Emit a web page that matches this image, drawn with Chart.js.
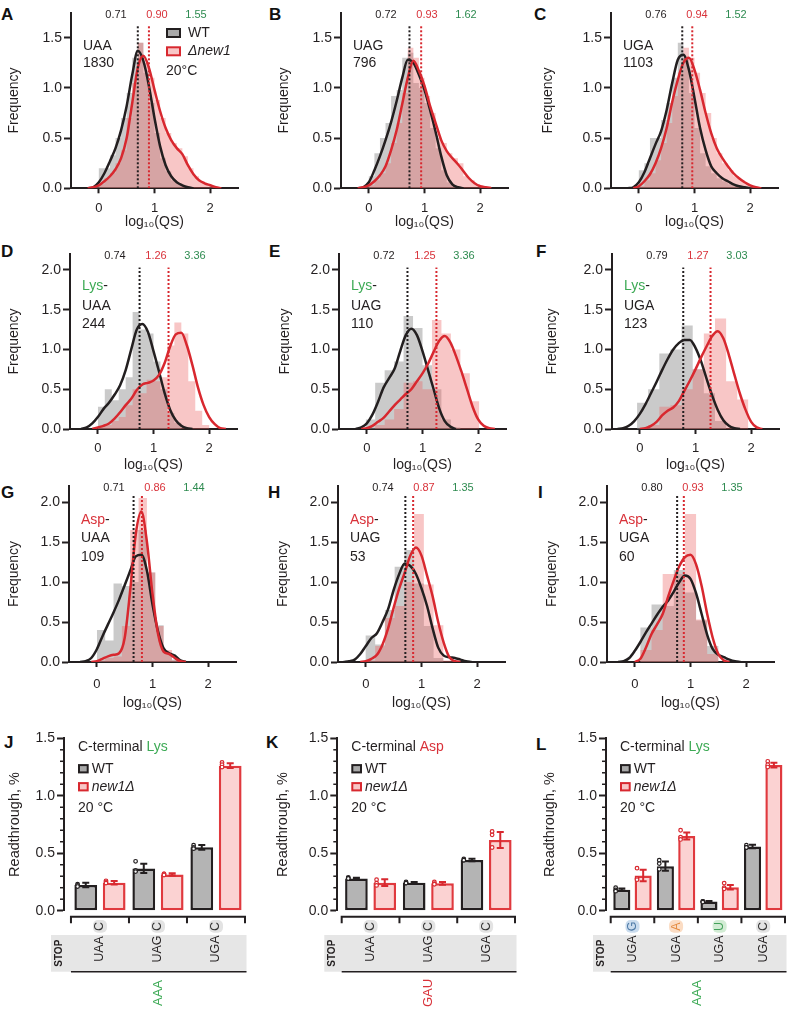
<!DOCTYPE html>
<html>
<head>
<meta charset="utf-8">
<script src="https://cdn.jsdelivr.net/npm/chart.js@4.4.1/dist/chart.umd.min.js"></script>
<style>
  html, body { margin: 0; padding: 0; background: #fff; }
  body { position: relative; width: 787px; height: 1012px; overflow: hidden; font-family: "Liberation Sans", Arial, Helvetica, sans-serif; }
  canvas { position: absolute; }
  .tag { position: absolute; font-weight: bold; font-size: 17px; line-height: 17px; color: #111; }
</style>
</head>
<body>
<div class="tag" style="left:1px;top:6px">A</div>
<div class="tag" style="left:269px;top:6px">B</div>
<div class="tag" style="left:534px;top:6px">C</div>
<div class="tag" style="left:1px;top:243px">D</div>
<div class="tag" style="left:269px;top:243px">E</div>
<div class="tag" style="left:536px;top:243px">F</div>
<div class="tag" style="left:1px;top:484px">G</div>
<div class="tag" style="left:268px;top:484px">H</div>
<div class="tag" style="left:538px;top:484px">I</div>
<div class="tag" style="left:4px;top:734px">J</div>
<div class="tag" style="left:266px;top:734px">K</div>
<div class="tag" style="left:536px;top:736px">L</div>
<script>
// ---- density curves, sampled on a common log10(QS) grid ----
const qsGrid = [-0.4,-0.3,-0.2,-0.1,0,0.1,0.2,0.3,0.4,0.5,0.6,0.7,0.8,0.9,1,1.1,1.2,1.3,1.4,1.5,1.6,1.7,1.8,1.9,2,2.1,2.2,2.3,2.4];
const _ = null;
const densA_wt  = [_,_,0,0.01,0.06,0.15,0.27,0.40,0.58,0.82,1.13,1.37,1.27,1.02,0.70,0.42,0.23,0.12,0.06,0.03,0.01,0,_,_,_,_,_,_,_];
const densA_mut = [_,_,0,0.01,0.03,0.07,0.12,0.19,0.30,0.50,0.85,1.20,1.32,1.20,0.98,0.77,0.60,0.48,0.40,0.34,0.23,0.14,0.08,0.05,0.03,0.01,0,_,_];
const densB_wt  = [_,_,0,0.01,0.06,0.18,0.32,0.48,0.66,0.87,1.10,1.28,1.25,1.13,0.98,0.78,0.56,0.32,0.13,0.04,0.01,0,_,_,_,_,_,_,_];
const densB_mut = [_,_,0,0.01,0.03,0.07,0.13,0.22,0.38,0.58,0.84,1.10,1.27,1.17,1.02,0.82,0.65,0.48,0.37,0.30,0.24,0.17,0.10,0.05,0.02,0.01,0,_,_];
const densC_wt  = [_,_,0,0.01,0.06,0.16,0.30,0.44,0.57,0.78,1.05,1.28,1.33,1.18,0.90,0.60,0.38,0.22,0.15,0.10,0.07,0.04,0.02,0.01,0,_,_,_,_];
const densC_mut = [_,_,_,0,0.02,0.07,0.14,0.25,0.40,0.60,0.86,1.08,1.25,1.30,1.18,0.98,0.75,0.55,0.40,0.30,0.22,0.15,0.10,0.06,0.03,0.01,0,_,_];
const densD_wt  = [_,0,0.02,0.07,0.15,0.25,0.33,0.43,0.55,0.74,1.00,1.25,1.32,1.22,0.98,0.72,0.45,0.24,0.11,0.04,0.01,0,_,_,_,_,_,_,_];
const densD_mut = [_,_,_,0,0.02,0.04,0.07,0.13,0.21,0.30,0.38,0.49,0.56,0.58,0.61,0.68,0.83,1.04,1.19,1.21,1.05,0.80,0.52,0.30,0.15,0.06,0.01,0,_];
const densE_wt  = [_,_,0,0.02,0.07,0.18,0.34,0.52,0.64,0.76,0.98,1.18,1.26,1.18,0.98,0.74,0.50,0.26,0.10,0.03,0,_,_,_,_,_,_,_,_];
const densE_mut = [_,_,_,0,0.01,0.04,0.09,0.14,0.22,0.30,0.37,0.44,0.50,0.60,0.70,0.82,0.97,1.11,1.17,1.09,0.92,0.72,0.50,0.28,0.12,0.04,0.01,0,_];
const densF_wt  = [0,0.01,0.04,0.10,0.19,0.31,0.45,0.59,0.74,0.88,1.00,1.08,1.12,1.12,1.02,0.85,0.63,0.42,0.24,0.11,0.04,0.01,0,_,_,_,_,_,_];
const densF_mut = [_,_,_,_,0,0.01,0.04,0.09,0.17,0.23,0.27,0.35,0.48,0.61,0.75,0.90,1.04,1.17,1.23,1.14,0.93,0.68,0.44,0.24,0.09,0.02,0,_,_];
const densG_wt  = [_,0,0.01,0.05,0.16,0.32,0.47,0.62,0.78,0.96,1.14,1.32,1.34,1.14,0.72,0.38,0.17,0.11,0.08,0.02,0,_,_,_,_,_,_,_,_];
const densG_mut = [_,_,_,0,0.01,0.04,0.07,0.09,0.11,0.30,0.90,1.60,1.88,1.50,0.85,0.35,0.13,0.10,0.05,0.01,0,_,_,_,_,_,_,_,_];
const densH_wt  = [0,0.01,0.03,0.10,0.20,0.30,0.36,0.50,0.66,0.90,1.10,1.23,1.20,1.10,0.92,0.70,0.42,0.18,0.08,0.06,0.05,0.03,0.01,0,_,_,_,_,_];
const densH_mut = [_,_,_,0,0.01,0.04,0.09,0.22,0.42,0.68,0.92,1.12,1.33,1.43,1.33,1.08,0.82,0.50,0.24,0.06,0.01,0,_,_,_,_,_,_,_];
const densI_wt  = [_,0,0.01,0.05,0.14,0.25,0.37,0.48,0.59,0.69,0.77,0.88,1.00,1.08,1.04,0.86,0.60,0.34,0.16,0.09,0.06,0.03,0.01,0,_,_,_,_,_];
const densI_mut = [_,_,_,_,0,0.04,0.18,0.35,0.47,0.60,0.82,1.02,1.20,1.31,1.34,1.22,0.95,0.60,0.30,0.10,0.02,0,_,_,_,_,_,_,_];

// ---- histograms: bin centres and frequencies ----
const binsABC = [-0.05,0.05,0.15,0.25,0.35,0.45,0.55,0.65,0.75,0.85,0.95,1.05,1.15,1.25,1.35,1.45,1.55,1.65,1.75,1.85,1.95,2.05,2.15];
const histA_wt  = [0.02,0.2,0.2,0.33,0.5,0.7,0.95,1.3,1.45,1.15,0.85,0.55,0.3,0.17,0.08,0.05,0.02,0,0,0,0,0,0];
const histA_mut = [0,0.04,0.1,0.15,0.25,0.38,0.7,1.05,1.45,1.25,1.1,0.88,0.7,0.55,0.45,0.4,0.32,0.2,0.12,0.07,0.04,0.02,0.01];
const histB_wt  = [0.01,0.12,0.35,0.5,0.65,0.92,0.98,1.3,1.35,1.05,1.0,0.85,0.6,0.4,0.18,0.06,0.02,0,0,0,0,0,0];
const histB_mut = [0,0.03,0.08,0.15,0.25,0.45,0.65,0.95,1.4,1.3,1.1,0.92,0.75,0.5,0.45,0.35,0.3,0.25,0.12,0.08,0.04,0.02,0.02];
const histC_wt  = [0.02,0.18,0.25,0.5,0.5,0.68,0.85,1.1,1.45,1.3,0.95,0.6,0.35,0.22,0.15,0.1,0.07,0.04,0.02,0,0,0,0];
const histC_mut = [0,0.02,0.08,0.15,0.28,0.45,0.65,0.92,1.15,1.4,1.3,1.15,0.95,0.75,0.5,0.35,0.25,0.18,0.12,0.08,0.04,0.02,0];
const binsD = [0.0625,0.1875,0.3125,0.4375,0.5625,0.6875,0.8125,0.9375,1.0625,1.1875,1.3125,1.4375,1.5625,1.6875,1.8125,1.9375,2.0625];
const histD_wt  = [0.28,0.5,0.36,0.5,0.65,1.47,1.25,1.2,0.85,0.5,0.2,0.08,0,0,0,0,0];
const histD_mut = [0.03,0.05,0.1,0.15,0.3,0.5,0.45,0.62,0.6,0.65,1.05,1.34,1.2,0.6,0.23,0.05,0];
const binsE = [0.065,0.235,0.405,0.575,0.745,0.915,1.085,1.255,1.425,1.595,1.765,1.935];
const histE_wt  = [0.12,0.58,0.74,0.85,1.42,1.27,0.8,0.5,0.12,0.02,0,0];
const histE_mut = [0,0.05,0.12,0.25,0.58,0.6,0.5,1.37,1.2,1.0,0.7,0.35];
const binsF = [0.05,0.25,0.45,0.65,0.85,1.05,1.25,1.45,1.65,1.85];
const histF_wt  = [0.33,0.5,0.95,1.0,1.3,0.75,0.45,0.1,0,0];
const histF_mut = [0,0.05,0.28,0.3,0.5,0.75,1.2,1.39,0.6,0.37];
const binsG = [0.075,0.225,0.375,0.525,0.675,0.825,0.975,1.125,1.275,1.425];
const histG_wt  = [0.4,0.27,0.98,0.95,1.0,1.65,1.12,0.46,0.12,0.03];
const histG_mut = [0.02,0.05,0.07,0.45,1.65,2.05,1.12,0.45,0.15,0.02];
const binsH = [0.08,0.255,0.43,0.605,0.78,0.955,1.13,1.305,1.48];
const histH_wt  = [0.33,0.22,0.65,1.19,1.4,0.98,0.45,0.05,0];
const histH_mut = [0.02,0.2,0.55,0.7,1.0,1.85,0.97,0.46,0.02];
const binsI = [0,0.2,0.4,0.6,0.8,1.0,1.2,1.4,1.6];
const histI_wt  = [0,0.43,0.72,0.7,1.15,0.87,0.52,0.2,0];
const histI_mut = [0,0.15,0.4,1.1,1.1,1.85,0.53,0.1,0];

// ---- medians (line positions) and printed numbers, panels A..I ----
const medLineWT  = [0.70,0.73,0.78,0.75,0.73,0.78,0.66,0.71,0.76];
const medLineMut = [0.90,0.94,0.96,1.27,1.25,1.27,0.81,0.85,0.88];
const medLabelWT  = ['0.71','0.72','0.76','0.74','0.72','0.79','0.71','0.74','0.80'];
const medLabelMut = ['0.90','0.93','0.94','1.26','1.25','1.27','0.86','0.87','0.93'];
const ratioLabel  = ['1.55','1.62','1.52','3.36','3.36','3.03','1.44','1.35','1.35'];
const stopLabel = ['UAA','UAG','UGA','UAA','UAG','UGA','UAA','UAG','UGA'];
const nLabel = ['1830','796','1103','244','110','123','109','53','60'];

// ---- readthrough bars J, K, L ----
const stopsJ = ['UAA','UAG','UGA'];
const ntsJ = ['C','C','C'];
const rtWT_J  = [0.223,0.368,0.551];
const rtMut_J = [0.244,0.316,1.262];
const errWT_J  = [0.02,0.04,0.02];
const errMut_J = [0.015,0.01,0.02];
const repWT_J  = [[0.23,0.22,0.21],[0.43,0.35,0.34],[0.57,0.55,0.54]];
const repMut_J = [[0.26,0.25,0.24],[0.32,0.32,0.31],[1.29,1.27,1.25]];

const stopsK = ['UAA','UAG','UGA'];
const ntsK = ['C','C','C'];
const rtWT_K  = [0.281,0.244,0.441];
const rtMut_K = [0.244,0.238,0.615];
const errWT_K  = [0.006,0.006,0.01];
const errMut_K = [0.03,0.012,0.07];
const repWT_K  = [[0.29,0.28,0.28],[0.25,0.24,0.24],[0.45,0.44,0.44]];
const repMut_K = [[0.27,0.24,0.22],[0.25,0.235,0.23],[0.69,0.66,0.55]];

const stopsL = ['UGA','UGA','UGA','UGA'];
const ntsL = ['G','A','U','C'];
const rtWT_L  = [0.183,0.387,0.079,0.559];
const rtMut_L = [0.306,0.65,0.204,1.267];
const errWT_L  = [0.01,0.04,0.005,0.015];
const errMut_L = [0.05,0.03,0.02,0.02];
const repWT_L  = [[0.2,0.18,0.17],[0.44,0.41,0.36],[0.08,0.08,0.075],[0.57,0.55,0.55]];
const repMut_L = [[0.37,0.28,0.27],[0.7,0.64,0.62],[0.24,0.2,0.19],[1.3,1.27,1.25]];

// ---- styles ----
const FONT = '"Liberation Sans", Arial, Helvetica, sans-serif';
const INK = '#231f20';
const RED = '#d8282f';
const RED_T = '#d9323a';
const GREEN = '#3daa55';
const GREEN_D = '#2e8b50';
const NT = {
  G: { bg: '#cadcee', fg: '#4d79a6' },
  A: { bg: '#fbdcc3', fg: '#e48b41' },
  U: { bg: '#d2ecd4', fg: '#43a15a' },
  C: { bg: '#e3e3e3', fg: '#333333' }
};

Chart.defaults.font.family = FONT;
Chart.defaults.color = INK;
Chart.defaults.animation = false;
Chart.defaults.events = [];
Chart.defaults.plugins.legend.display = false;
Chart.defaults.plugins.tooltip.enabled = false;

const pts = (xs, ys) => xs.map((x, i) => ({ x: x, y: ys[i] }));

// histogram outline as a step function (bin centres plus the two outer edges)
function stepPts(bins, h) {
  const w = bins[1] - bins[0];
  const p = pts(bins, h);
  p.unshift({ x: bins[0] - w / 2, y: h[0] });
  p.push({ x: bins[bins.length - 1] + w / 2, y: h[h.length - 1] });
  return p;
}

function vText(ctx, t, x, y, font, color) {
  ctx.save();
  ctx.translate(x, y);
  ctx.rotate(-Math.PI / 2);
  ctx.font = font;
  ctx.fillStyle = color;
  ctx.textAlign = 'center';
  ctx.textBaseline = 'middle';
  ctx.fillText(t, 0, 0);
  ctx.restore();
}

function segText(ctx, segs, x, y) {
  segs.forEach(([t, c]) => {
    ctx.fillStyle = c;
    ctx.fillText(t, x, y);
    x += ctx.measureText(t).width;
  });
}

function legendBox(ctx, x, y, w, h, fill, stroke) {
  ctx.fillStyle = fill;
  ctx.fillRect(x, y, w, h);
  ctx.strokeStyle = stroke;
  ctx.lineWidth = 2;
  ctx.strokeRect(x, y, w, h);
}

function makeCanvas(left, top, w, h) {
  const cv = document.createElement('canvas');
  cv.width = w;
  cv.height = h;
  cv.style.left = left + 'px';
  cv.style.top = top + 'px';
  document.body.appendChild(cv);
  return cv;
}

// ---- histogram + density panels ----
const histRows = [
  { top: 0,   h: 232, padTop: 12.6, xH: 43.7, yMax: 1.75, yTicks: [0, 0.5, 1, 1.5],    medTop: 1.62, tickPad: 7,  xTitlePad: 1.6, lineY: [34, 50.7] },
  { top: 236, h: 240, padTop: 18,   xH: 47,   yMax: 2.2,  yTicks: [0, 0.5, 1, 1.5, 2], medTop: 2.03, tickPad: 7,  xTitlePad: 2.6, lineY: [32, 52.5, 70.5] },
  { top: 475, h: 239, padTop: 11,   xH: 52,   yMax: 2.2,  yTicks: [0, 0.5, 1, 1.5, 2], medTop: 2.1,  tickPad: 10, xTitlePad: 2.6, lineY: [34, 52.3, 70.7] }
];

const histPanels = [
  { k: 0, row: 0, left: 0,     yTitleX: 14,   bins: binsABC, wt: histA_wt, mut: histA_mut, dWt: densA_wt, dMut: densA_mut, legend: true },
  { k: 1, row: 0, left: 269.7, yTitleX: 14.3, bins: binsABC, wt: histB_wt, mut: histB_mut, dWt: densB_wt, dMut: densB_mut },
  { k: 2, row: 0, left: 539.7, yTitleX: 8.3,  bins: binsABC, wt: histC_wt, mut: histC_mut, dWt: densC_wt, dMut: densC_mut },
  { k: 3, row: 1, left: -1,    yTitleX: 15,   bins: binsD, wt: histD_wt, mut: histD_mut, dWt: densD_wt, dMut: densD_mut, aa: ['Lys', GREEN] },
  { k: 4, row: 1, left: 268,   yTitleX: 17,   bins: binsE, wt: histE_wt, mut: histE_mut, dWt: densE_wt, dMut: densE_mut, aa: ['Lys', GREEN] },
  { k: 5, row: 1, left: 540.7, yTitleX: 11.3, bins: binsF, wt: histF_wt, mut: histF_mut, dWt: densF_wt, dMut: densF_mut, aa: ['Lys', GREEN] },
  { k: 6, row: 2, left: -2,    yTitleX: 16,   bins: binsG, wt: histG_wt, mut: histG_mut, dWt: densG_wt, dMut: densG_mut, aa: ['Asp', RED_T] },
  { k: 7, row: 2, left: 267.3, yTitleX: 16,   bins: binsH, wt: histH_wt, mut: histH_mut, dWt: densH_wt, dMut: densH_mut, aa: ['Asp', RED_T] },
  { k: 8, row: 2, left: 535.7, yTitleX: 16.3, bins: binsI, wt: histI_wt, mut: histI_mut, dWt: densI_wt, dMut: densI_mut, aa: ['Asp', RED_T] }
];

const numDX = [45, 86, 125];

function histDeco(p, r) {
  return {
    id: 'histDeco',
    afterDraw(chart) {
      const { ctx, chartArea: a } = chart;
      const L = a.left, T = a.top;
      ctx.save();
      ctx.textBaseline = 'middle';
      ctx.textAlign = 'center';
      ctx.font = '11px ' + FONT;
      [medLabelWT[p.k], medLabelMut[p.k], ratioLabel[p.k]].forEach((t, i) => {
        ctx.fillStyle = [INK, RED_T, GREEN_D][i];
        ctx.fillText(t, L + numDX[i], T + 2);
      });
      ctx.textAlign = 'left';
      ctx.font = '14px ' + FONT;
      const lines = p.aa
        ? [[[p.aa[0], p.aa[1]], ['-', INK]], [[stopLabel[p.k], INK]], [[nLabel[p.k], INK]]]
        : [[[stopLabel[p.k], INK]], [[nLabel[p.k], INK]]];
      lines.forEach((segs, i) => segText(ctx, segs, L + 12, T + r.lineY[i]));
      if (p.legend) {
        legendBox(ctx, L + 96, T + 16.4, 13, 8, '#a9a9a9', INK);
        legendBox(ctx, L + 96, T + 34.7, 13, 8, '#f8c6c6', RED);
        ctx.fillStyle = INK;
        ctx.fillText('WT', L + 117, T + 20.4);
        ctx.font = 'italic 14px ' + FONT;
        ctx.fillText('\u0394new1', L + 117, T + 38.7);
        ctx.font = '14px ' + FONT;
        ctx.fillText('20\u00B0C', L + 95, T + 59);
      }
      ctx.restore();
    }
  };
}

histPanels.forEach(p => {
  const r = histRows[p.row];
  const cv = makeCanvas(p.left, r.top, 247, r.h);
  const stepStyle = { type: 'line', stepped: 'middle', fill: 'origin', borderWidth: 0, pointRadius: 0 };
  new Chart(cv, {
    type: 'line',
    data: {
      datasets: [
        Object.assign({ data: stepPts(p.bins, p.wt), backgroundColor: 'rgba(145,145,145,0.48)', borderColor: 'rgba(0,0,0,0)', order: 6 }, stepStyle),
        Object.assign({ data: stepPts(p.bins, p.mut), backgroundColor: 'rgba(236,96,96,0.36)', borderColor: 'rgba(0,0,0,0)', order: 5 }, stepStyle),
        { data: pts(qsGrid, p.dWt), borderColor: INK, borderWidth: 2.5, pointRadius: 0, cubicInterpolationMode: 'monotone', order: 3 },
        { data: pts(qsGrid, p.dMut), borderColor: RED, borderWidth: 2.5, pointRadius: 0, cubicInterpolationMode: 'monotone', order: 2 },
        { data: [{ x: medLineWT[p.k], y: 0 }, { x: medLineWT[p.k], y: r.medTop }], borderColor: INK, borderWidth: 2, borderDash: [2, 2], pointRadius: 0, order: 1 },
        { data: [{ x: medLineMut[p.k], y: 0 }, { x: medLineMut[p.k], y: r.medTop }], borderColor: RED, borderWidth: 2, borderDash: [2, 2], pointRadius: 0, order: 1 }
      ]
    },
    options: {
      responsive: false,
      layout: { padding: { top: r.padTop, right: 9, bottom: 0, left: 0 } },
      scales: {
        x: {
          type: 'linear', min: -0.5, max: 2.5, offset: false,
          afterBuildTicks: s => { s.ticks = [0, 1, 2].map(v => ({ value: v })); },
          afterFit: s => { s.height = r.xH; },
          ticks: { font: { size: 13 }, color: INK, padding: r.tickPad, maxRotation: 0, callback: v => String(v) },
          grid: { drawOnChartArea: false, offset: false, tickLength: 5, tickWidth: 2, tickColor: INK },
          border: { color: INK, width: 2 },
          title: { display: true, text: 'log\u2081\u2080(QS)', font: { size: 14 }, color: INK, padding: { top: 0, bottom: r.xTitlePad } }
        },
        y: {
          min: 0, max: r.yMax,
          afterBuildTicks: s => { s.ticks = r.yTicks.map(v => ({ value: v })); },
          afterFit: s => { s.width = 71; },
          ticks: { font: { size: 14 }, color: INK, padding: 2, callback: v => v.toFixed(1) },
          grid: { drawOnChartArea: false, tickLength: 7, tickWidth: 2, tickColor: INK },
          border: { color: INK, width: 2 },
          title: { display: true, text: 'Frequency', font: { size: 14 }, color: INK, padding: { top: p.yTitleX - 8.4, bottom: 0 } }
        }
      }
    },
    plugins: [histDeco(p, r)]
  });
});

// ---- readthrough bar panels ----
const barPanels = [
  { left: 0,   w: 250, axisW: 64,   padR: 5, xMin: -0.62,  yTitleX: 15,   stops: stopsJ, nts: ntsJ, wt: rtWT_J, mut: rtMut_J, eWt: errWT_J, eMut: errMut_J, rWt: repWT_J, rMut: repMut_J, aa: ['Lys', GREEN], codon: ['AAA', GREEN] },
  { left: 260, w: 260, axisW: 77.3, padR: 5, xMin: -0.576, yTitleX: 23.3, stops: stopsK, nts: ntsK, wt: rtWT_K, mut: rtMut_K, eWt: errWT_K, eMut: errMut_K, rWt: repWT_K, rMut: repMut_K, aa: ['Asp', RED_T], codon: ['GAU', RED_T] },
  { left: 520, w: 267, axisW: 86,   padR: 2, xMin: -0.608, yTitleX: 30,   stops: stopsL, nts: ntsL, wt: rtWT_L, mut: rtMut_L, eWt: errWT_L, eMut: errMut_L, rWt: repWT_L, rMut: repMut_L, aa: ['Lys', GREEN], codon: ['AAA', GREEN] }
];

function barDeco(p) {
  return {
    id: 'barDeco',
    afterDatasetsDraw(chart) {
      const { ctx, scales: { y } } = chart;
      ctx.save();
      [[p.eWt, p.rWt, INK], [p.eMut, p.rMut, RED]].forEach(([errs, reps, col], di) => {
        const meta = chart.getDatasetMeta(di);
        const vals = chart.data.datasets[di].data;
        meta.data.forEach((el, i) => {
          const m = vals[i].y, e = errs[i];
          const yt = y.getPixelForValue(m + e), yb = y.getPixelForValue(m - e);
          ctx.strokeStyle = col;
          ctx.lineWidth = 2;
          ctx.beginPath();
          ctx.moveTo(el.x, yt); ctx.lineTo(el.x, yb);
          ctx.moveTo(el.x - 3.5, yt); ctx.lineTo(el.x + 3.5, yt);
          ctx.moveTo(el.x - 3.5, yb); ctx.lineTo(el.x + 3.5, yb);
          ctx.stroke();
          ctx.lineWidth = 1.2;
          ctx.fillStyle = '#fff';
          reps[i].forEach(v => {
            ctx.beginPath();
            ctx.arc(el.x - el.width * 0.36, y.getPixelForValue(v), 1.8, 0, Math.PI * 2);
            ctx.fill();
            ctx.stroke();
          });
        });
      });
      ctx.restore();
    },
    afterDraw(chart) {
      const { ctx, chartArea: a, scales: { x, y } } = chart;
      const n = p.stops.length;
      const X = a.left, T = a.top, B = a.bottom;
      const x0 = x.getPixelForValue(-0.5), x1 = x.getPixelForValue(n - 0.5);
      ctx.save();
      // minor ticks on the y axis
      ctx.strokeStyle = INK;
      ctx.lineWidth = 1.5;
      for (let k = 1; k < 15; k++) {
        if (k % 5 === 0) continue;
        const yy = y.getPixelForValue(k / 10);
        ctx.beginPath(); ctx.moveTo(X - 4, yy); ctx.lineTo(X, yy); ctx.stroke();
      }
      // offset x axis with group boundaries
      ctx.lineWidth = 2;
      ctx.beginPath();
      ctx.moveTo(x0, B + 6); ctx.lineTo(x1, B + 6);
      for (let i = 0; i <= n; i++) {
        const px = x.getPixelForValue(i - 0.5);
        ctx.moveTo(px, B + 5); ctx.lineTo(px, B + 12.5);
      }
      ctx.stroke();
      // grey stop-codon band
      ctx.fillStyle = '#e6e6e6';
      ctx.fillRect(X - 13, B + 24.3, x1 + 1.5 - (X - 13), 36.7);
      ctx.strokeStyle = INK;
      ctx.lineWidth = 1.5;
      ctx.beginPath(); ctx.moveTo(x0, B + 61); ctx.lineTo(x1 + 1.5, B + 61); ctx.stroke();
      vText(ctx, 'STOP', X - 5, B + 42.5, 'bold 10px ' + FONT, INK);
      p.stops.forEach((s, i) => {
        const cx = x.getPixelForValue(i);
        vText(ctx, s, cx, B + 38.3, '12.5px ' + FONT, INK);
        const nt = NT[p.nts[i]];
        ctx.fillStyle = nt.bg;
        ctx.beginPath();
        ctx.roundRect(cx - 7, B + 9.4, 14, 12.7, 5);
        ctx.fill();
        vText(ctx, p.nts[i], cx, B + 15.8, '12.5px ' + FONT, nt.fg);
      });
      vText(ctx, p.codon[0], (x0 + x1) / 2, B + 82.3, '13px ' + FONT, p.codon[1]);
      // legend
      ctx.font = '14px ' + FONT;
      ctx.textAlign = 'left';
      ctx.textBaseline = 'middle';
      segText(ctx, [['C-terminal ', INK], [p.aa[0], p.aa[1]]], X + 14, T + 8.4);
      legendBox(ctx, X + 15, T + 26.8, 8.7, 7.3, '#a9a9a9', INK);
      legendBox(ctx, X + 15, T + 44.8, 8.7, 7.3, '#f8c6c6', RED);
      ctx.fillStyle = INK;
      ctx.fillText('WT', X + 27.7, T + 30.4);
      ctx.font = 'italic 14px ' + FONT;
      ctx.fillText('new1\u0394', X + 27.7, T + 48.4);
      ctx.font = '14px ' + FONT;
      ctx.fillText('20 \u00B0C', X + 14, T + 70);
      ctx.restore();
    }
  };
}

barPanels.forEach(p => {
  const cv = makeCanvas(p.left, 720, p.w, 292);
  const idx = p.stops.map((s, i) => i);
  const barStyle = { borderWidth: 2.5, borderSkipped: false, barPercentage: 0.8, categoryPercentage: 0.98 };
  new Chart(cv, {
    type: 'bar',
    data: {
      datasets: [
        Object.assign({ data: pts(idx, p.wt), backgroundColor: '#b4b4b4', borderColor: INK }, barStyle),
        Object.assign({ data: pts(idx, p.mut), backgroundColor: '#fbd2d2', borderColor: '#e0393e' }, barStyle)
      ]
    },
    options: {
      responsive: false,
      layout: { padding: { top: 18.3, right: p.padR, bottom: 101.3, left: 0 } },
      scales: {
        x: { type: 'linear', display: false, min: p.xMin, max: p.stops.length - 0.5, offset: false },
        y: {
          min: 0, max: 1.5,
          afterBuildTicks: s => { s.ticks = [0, 0.5, 1, 1.5].map(v => ({ value: v })); },
          afterFit: s => { s.width = p.axisW; },
          ticks: { font: { size: 14 }, color: INK, padding: 2, callback: v => v.toFixed(1) },
          grid: { drawOnChartArea: false, tickLength: 7, tickWidth: 2, tickColor: INK },
          border: { color: INK, width: 2 },
          title: { display: true, text: 'Readthrough, %', font: { size: 14.5 }, color: INK, padding: { top: p.yTitleX - 8.7, bottom: 0 } }
        }
      }
    },
    plugins: [barDeco(p)]
  });
});
</script>
</body>
</html>
